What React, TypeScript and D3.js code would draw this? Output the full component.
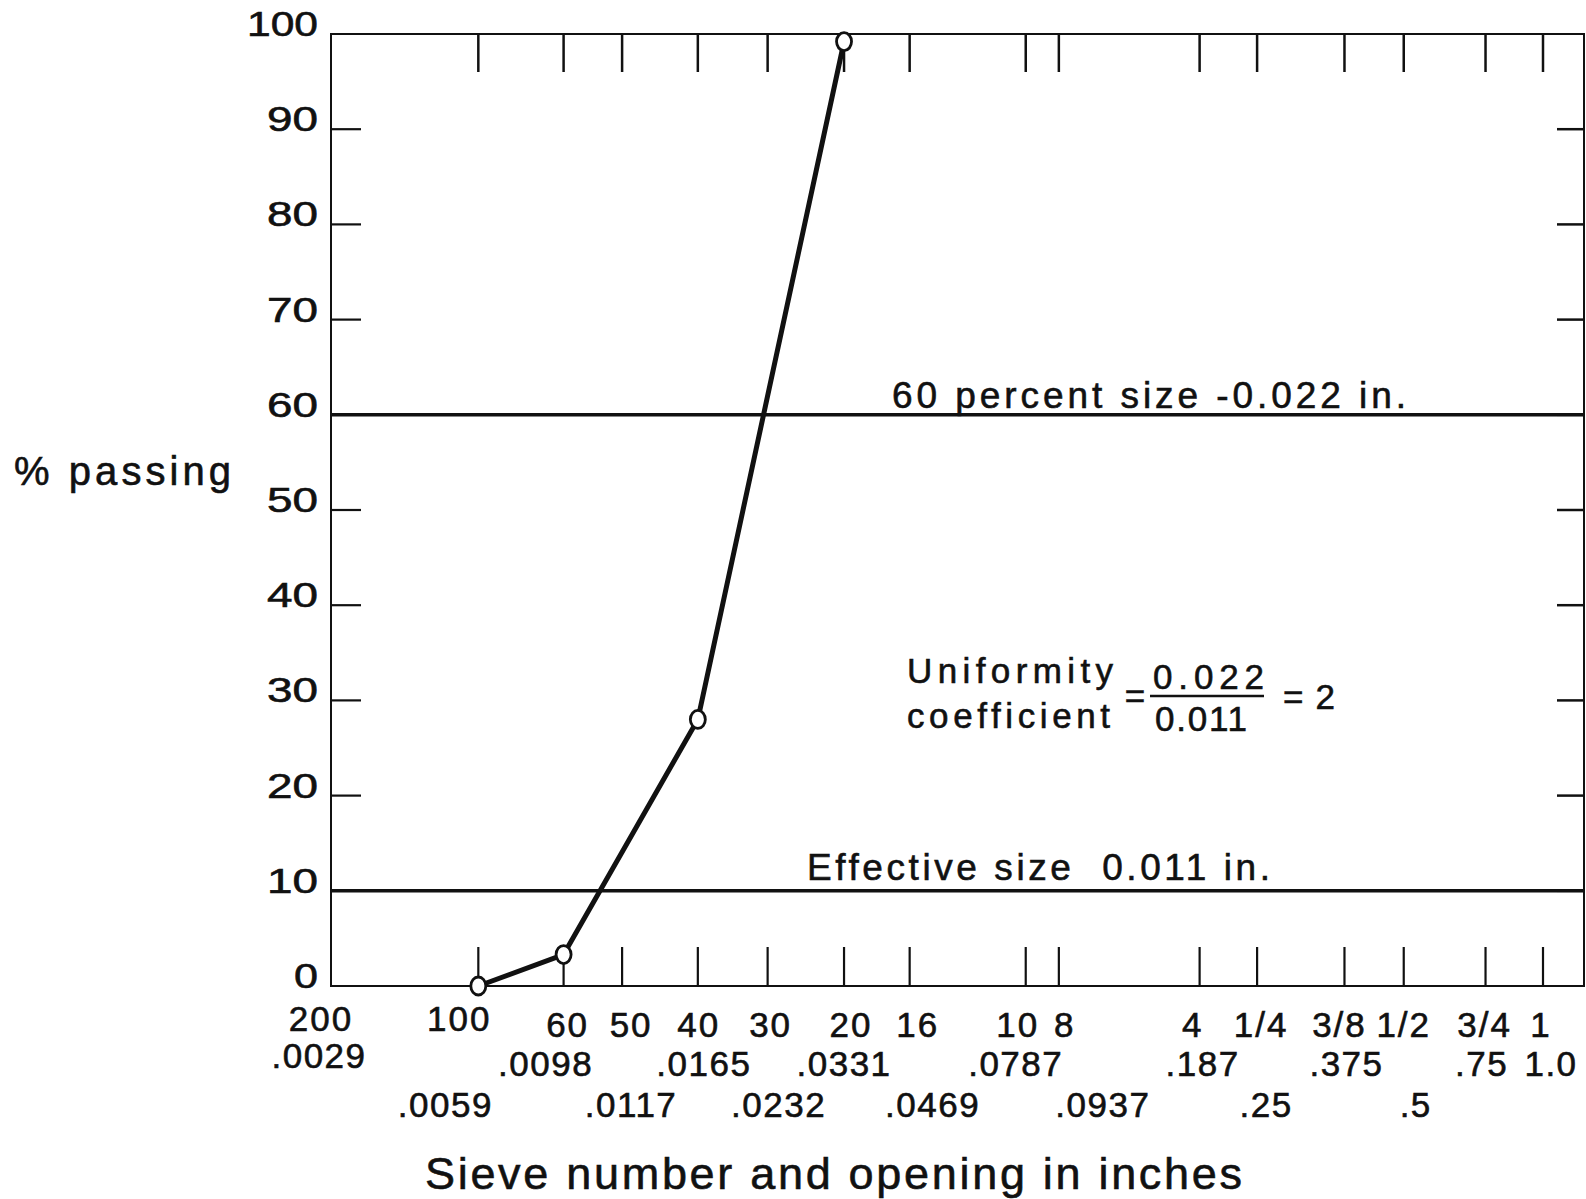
import React from 'react';
import * as d3 from 'd3';

// ---------- data ----------
const sieveNumbers = ['200', '100', '60', '50', '40', '30', '20', '16', '10', '8', '4', '1/4', '3/8', '1/2', '3/4', '1'];
const openingLabels = ['.0029', '.0059', '.0098', '.0117', '.0165', '.0232', '.0331', '.0469', '.0787', '.0937', '.187', '.25', '.375', '.5', '.75', '1.0'];
// where each sieve sits along the logarithmic opening axis (inches)
const sievePositions = [0.0029, 0.0059, 0.0089, 0.0118, 0.017, 0.0238, 0.0344, 0.0472, 0.0826, 0.0969, 0.191, 0.252, 0.384, 0.511, 0.758, 1.0];

const sampleSieves = ['100', '60', '40', '20'];
const percentPassing = [0, 3.3, 28, 99.2];

const yTickValues = [0, 10, 20, 30, 40, 50, 60, 70, 80, 90, 100];
const referenceLevels = [60, 10];
const referenceLabels = ['60 percent size -0.022 in.', 'Effective size  0.011 in.'];

// ---------- layout (not data) ----------
const W = 1586;
const H = 1199;
const LEFT = 331;
const RIGHT = 1584;
const TOP = 34;
const BOTTOM = 986;
const X_ONE = 1543;
const FONT = '"Liberation Sans", Arial, sans-serif';
const INK = '#111';

const row1Dx = [-10, -19, 4, 9, 1, 3, 7, 8, -8, 6, -7, 4, -5, 0, -1, -2];
const row1Dy = [-6, -6, 0, 0, 0, 0, 0, 0, 0, 0, 0, 0, 0, 0, 0, 0];
const row2Level = [0, 1, 0, 1, 0, 1, 0, 1, 0, 1, 0, 1, 0, 1, 0, 0];
const row2Dx = [-12, -33, -18, 9, 6, 11, 0, 23, -10, 44, 3, 9, 2, 12, -4, 8];
const row2Dy = [-8, 0, 0, 0, 0, 0, 0, 0, 0, 0, 0, 0, 0, 0, 0, 0];
const refLabelX = [892, 807];
const refLabelLen = [514, 463];
const refLabelDy = [-7, -11];

const yLabelWidth = (s: string) => (s.length === 1 ? 24 : s.length === 2 ? 51 : 71);

export default function App() {
  const x = d3.scaleLog().domain([0.0029, 1.0]).range([LEFT, X_ONE]);
  const y = d3.scaleLinear().domain([0, 100]).range([BOTTOM, TOP]);

  const points = sampleSieves.map((s, i) => {
    const idx = sieveNumbers.indexOf(s);
    return { x: x(sievePositions[idx]), y: y(percentPassing[i]) };
  });
  const line = d3
    .line<{ x: number; y: number }>()
    .x((d) => d.x)
    .y((d) => d.y);

  return (
    <svg
      width={W}
      height={H}
      viewBox={`0 0 ${W} ${H}`}
      style={{ position: 'absolute', left: 0, top: 0, background: '#fff' }}
      fontFamily={FONT}
    >
      <rect x={0} y={0} width={W} height={H} fill="#fff" />
      {/* frame */}
      <rect x={LEFT} y={TOP} width={RIGHT - LEFT} height={BOTTOM - TOP} fill="none" stroke={INK} strokeWidth={2} />

      <g fill={INK} stroke={INK} strokeWidth={0.6}>
        {/* y labels */}
        {yTickValues.map((v) => {
          const s = String(v);
          const wdt = yLabelWidth(s);
          return (
            <text
              key={'yl' + v}
              x={318 - wdt}
              y={y(v) + 2}
              fontSize={35}
              textLength={wdt}
              lengthAdjust="spacingAndGlyphs"
            >
              {s}
            </text>
          );
        })}

        {/* x labels */}
        {sievePositions.map((p, i) => (
          <g key={'xl' + i}>
            <text x={x(p) + row1Dx[i]} y={1037 + row1Dy[i]} textAnchor="middle" fontSize={35} letterSpacing={2}>
              {sieveNumbers[i]}
            </text>
            <text
              x={x(p) + row2Dx[i]}
              y={(row2Level[i] === 0 ? 1076 : 1117) + row2Dy[i]}
              textAnchor="middle"
              fontSize={35}
              letterSpacing={1.5}
            >
              {openingLabels[i]}
            </text>
          </g>
        ))}

        {/* reference line labels */}
        {referenceLevels.map((lv, i) => (
          <text
            key={'rl' + lv}
            x={refLabelX[i]}
            y={y(lv) + refLabelDy[i]}
            fontSize={37}
            textLength={refLabelLen[i]}
            lengthAdjust="spacing"
            style={{ whiteSpace: 'pre' }}
          >
            {referenceLabels[i]}
          </text>
        ))}

        {/* uniformity coefficient */}
        <g fontSize={35}>
          <text x={907} y={683} textLength={206} lengthAdjust="spacing">Uniformity</text>
          <text x={907} y={728} textLength={203} lengthAdjust="spacing">coefficient</text>
          <text x={1135} y={708} textAnchor="middle">=</text>
          <text x={1153} y={689} textLength={111} lengthAdjust="spacing">0.022</text>
          <text x={1155} y={731} textLength={92} lengthAdjust="spacing">0.011</text>
          <text x={1283} y={709} textLength={52} lengthAdjust="spacing">= 2</text>
        </g>

        {/* axis titles */}
        <text x={14} y={485} fontSize={40} textLength={217} lengthAdjust="spacing">
          % passing
        </text>
        <text x={425} y={1189} fontSize={45} textLength={817} lengthAdjust="spacing">
          Sieve number and opening in inches
        </text>
      </g>

      <line x1={1150} x2={1264} y1={696} y2={696} stroke={INK} strokeWidth={2.5} />

      {/* y ticks */}
      {yTickValues
        .filter((v) => v > 0 && v < 100)
        .map((v) => (
          <g key={'yt' + v}>
            <line x1={LEFT} x2={LEFT + 30} y1={y(v)} y2={y(v)} stroke={INK} strokeWidth={2.2} />
            <line x1={RIGHT - 27} x2={RIGHT} y1={y(v)} y2={y(v)} stroke={INK} strokeWidth={2.5} />
          </g>
        ))}

      {/* x ticks (top and bottom) */}
      {sievePositions.map((p, i) =>
        i === 0 ? null : (
          <g key={'xt' + i}>
            <line x1={x(p)} x2={x(p)} y1={TOP} y2={TOP + 38} stroke={INK} strokeWidth={2.5} />
            <line x1={x(p)} x2={x(p)} y1={BOTTOM - 39} y2={BOTTOM} stroke={INK} strokeWidth={2.2} />
          </g>
        )
      )}

      {/* reference lines */}
      {referenceLevels.map((lv) => (
        <line key={'ref' + lv} x1={LEFT} x2={RIGHT} y1={y(lv)} y2={y(lv)} stroke={INK} strokeWidth={3.5} />
      ))}

      {/* gradation curve */}
      <path d={line(points) || ''} fill="none" stroke={INK} strokeWidth={5} strokeLinejoin="round" />
      {points.map((pt, i) => (
        <ellipse key={'pt' + i} cx={pt.x} cy={pt.y} rx={7.5} ry={9} fill="#fff" stroke={INK} strokeWidth={2.8} />
      ))}
    </svg>
  );
}
